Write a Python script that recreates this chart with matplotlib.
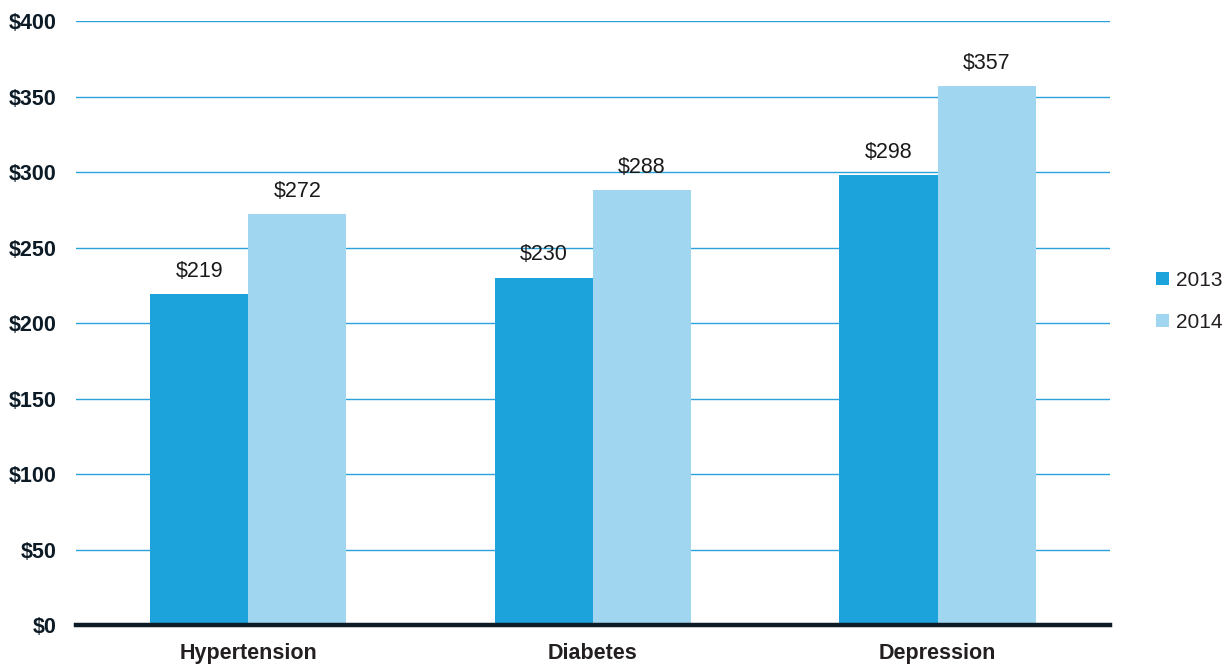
import matplotlib.pyplot as plt
import numpy as np

categories = ['Hypertension', 'Diabetes', 'Depression']
years = ['2013', '2014']
cost_2013 = [219, 230, 298]
cost_2014 = [272, 288, 357]
yticks = [0, 50, 100, 150, 200, 250, 300, 350, 400]

plt.rcParams['font.family'] = ['Liberation Sans', 'DejaVu Sans']

fig = plt.figure(figsize=(12.25, 6.64), dpi=100)
ax = fig.add_axes([0.062, 0.0587, 0.844, 0.9095])

x = np.arange(len(categories))
w = 0.285
b1 = ax.bar(x - w/2, cost_2013, w, color='#1ca3dc', label=years[0], zorder=2)
b2 = ax.bar(x + w/2, cost_2014, w, color='#a0d6f0', label=years[1], zorder=2)

for bars in (b1, b2):
    ax.bar_label(bars, labels=['$%d' % v for v in bars.datavalues],
                 padding=9, fontsize=15.5, color='#1a1a1a')

ax.set_xlim(-0.5, 2.5)
ax.set_ylim(0, 400)
ax.set_yticks(yticks)
ax.set_yticklabels(['$%d' % v for v in yticks], fontsize=15.5,
                   fontweight='bold', color='#0d1b26')
ax.set_xticks(x)
ax.set_xticklabels(categories, fontsize=15.5, fontweight='bold', color='#231f20')
ax.tick_params(axis='y', length=0, pad=14)
ax.tick_params(axis='x', length=0, pad=13)

ax.yaxis.grid(True, color='#29a3dc', linewidth=1.0, zorder=0)
ax.set_axisbelow(True)
for s in ['top', 'right', 'left']:
    ax.spines[s].set_visible(False)
ax.spines['bottom'].set_color('#0d1b26')
ax.spines['bottom'].set_linewidth(3.2)
ax.spines['bottom'].set_zorder(3)

ax.legend(loc='center left', bbox_to_anchor=(1.033, 0.536), frameon=False,
          fontsize=15, handlelength=0.6, handleheight=0.6,
          handletextpad=0.35, labelspacing=1.1, labelcolor='#231f20',
          borderaxespad=0.2)

fig.savefig('out.png', dpi=100)
